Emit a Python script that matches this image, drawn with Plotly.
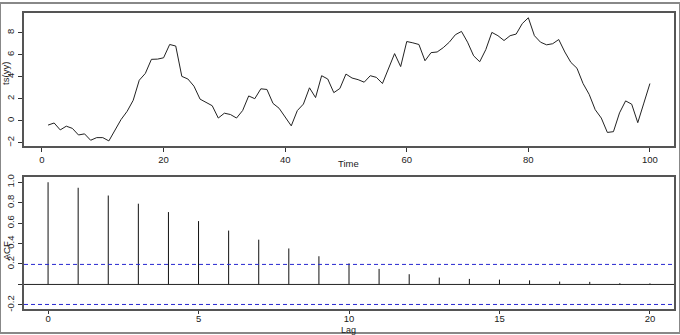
import numpy as np
import plotly.graph_objects as go

# ---- data ----
time_idx = list(range(1, 101))
yy = [-0.40, -0.21, -0.84, -0.50, -0.70, -1.30, -1.20, -1.78, -1.54, -1.54,
      -1.84, -0.90, 0.10, 0.85, 1.85, 3.68, 4.30, 5.58, 5.60, 5.72,
      6.93, 6.79, 4.03, 3.79, 3.14, 1.96, 1.66, 1.36, 0.24, 0.68,
      0.56, 0.24, 0.92, 2.25, 2.00, 2.90, 2.84, 1.57, 1.13, 0.33,
      -0.47, 0.92, 1.51, 2.99, 2.10, 4.09, 3.79, 2.55, 2.93, 4.24,
      3.88, 3.73, 3.50, 4.09, 3.94, 3.38, 4.71, 6.10, 4.92, 7.20,
      7.08, 6.93, 5.45, 6.19, 6.25, 6.64, 7.14, 7.82, 8.12, 7.14,
      5.90, 5.36, 6.46, 8.03, 7.73, 7.29, 7.73, 7.88, 8.83, 9.36,
      7.73, 7.14, 6.90, 7.00, 7.38, 6.25, 5.30, 4.77, 3.38, 2.40,
      1.00, 0.24, -1.07, -1.00, 0.71, 1.80, 1.50, -0.18, 1.60, 3.38]
lags = list(range(0, 21))
acf_vals = [1.000, 0.946, 0.870, 0.790, 0.708, 0.620, 0.527, 0.438, 0.352, 0.276,
            0.206, 0.152, 0.100, 0.067, 0.054, 0.047, 0.040, 0.028, 0.025, 0.012, 0.010]
n_obs = len(yy)
ci = 1.96 / np.sqrt(n_obs)

top_xticks = [0, 20, 40, 60, 80, 100]
top_yticks = [-2, 0, 2, 4, 6, 8]
bot_xticks = [0, 5, 10, 15, 20]
bot_yticks = [-0.2, 0.0, 0.2, 0.4, 0.6, 0.8, 1.0]
bot_yticktext = ["-0.2", "", "0.2", "0.4", "0.6", "0.8", "1.0"]


def pad(lo, hi, f=0.04):
    d = (hi - lo) * f
    return [lo - d, hi + d]


fig = go.Figure()

fig.add_trace(go.Scatter(x=time_idx, y=yy, mode="lines",
                         line=dict(color="#222222", width=1),
                         xaxis="x", yaxis="y", showlegend=False))

sx, sy = [], []
for l, v in zip(lags, acf_vals):
    sx += [l, l, None]
    sy += [0, v, None]
fig.add_trace(go.Scatter(x=sx, y=sy, mode="lines",
                         line=dict(color="#111111", width=1),
                         xaxis="x2", yaxis="y2", showlegend=False))

W, H = 680, 335
xl, xr = 24 / W, 674 / W
font = dict(family="Liberation Sans, Arial, sans-serif", size=9.5, color="#222222")
axis_common = dict(showline=True, mirror=True, linecolor="#555555", linewidth=1.5,
                   ticks="outside", tickcolor="#333333", tickwidth=1,
                   showgrid=False, zeroline=False, tickfont=font)

blue = "#2828d0"

fig.update_layout(
    width=W, height=H,
    margin=dict(l=0, r=0, t=0, b=0),
    paper_bgcolor="white", plot_bgcolor="white",
    xaxis=dict(domain=[xl, xr], anchor="y", range=pad(1, 100), ticklen=4,
               tickvals=top_xticks, **axis_common),
    yaxis=dict(domain=[(H - 145) / H, (H - 10) / H], anchor="x",
               range=pad(min(yy), max(yy)), tickvals=top_yticks, tickangle=-90,
               ticklen=4, **axis_common),
    xaxis2=dict(domain=[xl, xr], anchor="y2", range=pad(0, 20), ticklen=3,
                ticklabelstandoff=-4, tickvals=bot_xticks, **axis_common),
    yaxis2=dict(domain=[(H - 311) / H, (H - 177) / H], anchor="x2",
                range=pad(min(min(acf_vals), -ci), max(max(acf_vals), ci)),
                tickvals=bot_yticks, ticktext=bot_yticktext, tickangle=-90,
                ticklen=4, **axis_common),
    shapes=[
        dict(type="line", xref="x2 domain", yref="y2", x0=0, x1=1, y0=0, y1=0,
             line=dict(color="#222222", width=1)),
        dict(type="line", xref="x2 domain", yref="y2", x0=0, x1=1, y0=ci, y1=ci,
             line=dict(color=blue, width=1, dash="4px,3px")),
        dict(type="line", xref="x2 domain", yref="y2", x0=0, x1=1, y0=-ci, y1=-ci,
             line=dict(color=blue, width=1, dash="4px,3px")),
        dict(type="rect", xref="paper", yref="paper", x0=0, x1=1, y0=0, y1=1,
             line=dict(color="#888888", width=2)),
    ],
    annotations=[
        dict(text="Time", xref="paper", yref="paper", x=(24 + 674) / 2 / W,
             y=(H - 163) / H, xanchor="center", yanchor="middle",
             showarrow=False, font=font),
        dict(text="Lag", xref="paper", yref="paper", x=(24 + 674) / 2 / W,
             y=0, xanchor="center", yanchor="bottom", yshift=-3, borderpad=0,
             showarrow=False, font=dict(family=font["family"], size=9, color="#222222")),
        dict(text="ts(yy)", xref="paper", yref="paper", x=6 / W,
             y=(H - 72) / H, xanchor="center", yanchor="middle",
             showarrow=False, textangle=-90, font=font),
        dict(text="ACF", xref="paper", yref="paper", x=6 / W,
             y=(H - 252) / H, xanchor="center", yanchor="middle",
             showarrow=False, textangle=-90, font=font),
    ],
)

fig.write_html("out.html")
